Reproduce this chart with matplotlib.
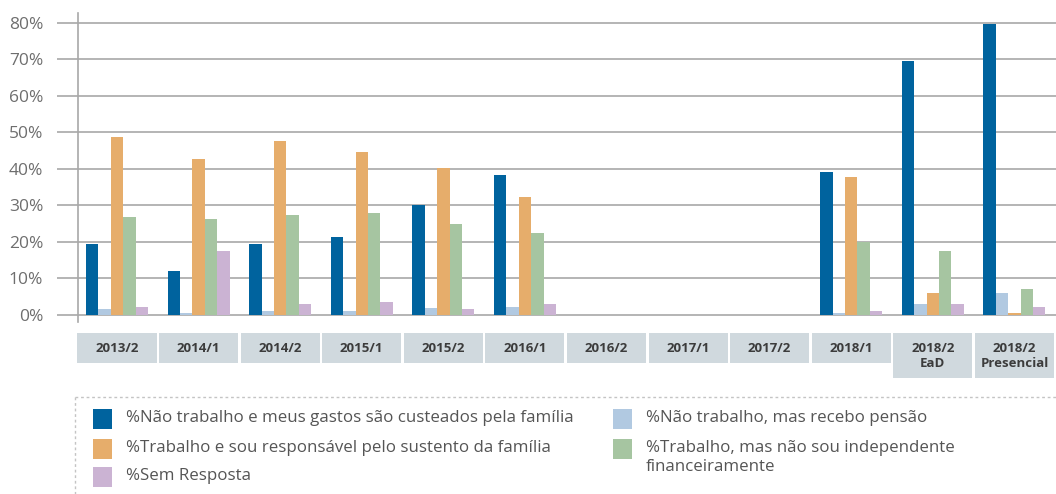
import numpy as np
import matplotlib
matplotlib.use("Agg")
import matplotlib.pyplot as pp
from matplotlib.patches import Rectangle
from matplotlib.lines import Line2D

pp.rcParams['font.family'] = ['Open Sans', 'DejaVu Sans']

# data
semesters = ['2013/2', '2014/1', '2014/2', '2015/1', '2015/2', '2016/1',
             '2016/2', '2017/1', '2017/2', '2018/1', '2018/2\nEaD', '2018/2\nPresencial']
nao_trab_familia = [19.5, 12.0, 19.5, 21.4, 30.0, 38.4, 0, 0, 0, 39.2, 69.6, 79.8]
nao_trab_pensao = [1.6, 0.5, 1.1, 1.1, 1.8, 2.3, 0, 0, 0, 0.6, 3.0, 6.0]
trab_responsavel = [48.8, 42.7, 47.7, 44.7, 40.3, 32.3, 0, 0, 0, 37.8, 6.0, 0.6]
trab_nao_indep = [26.8, 26.3, 27.4, 28.0, 25.0, 22.5, 0, 0, 0, 20.0, 17.5, 7.1]
sem_resposta = [2.2, 17.5, 3.0, 3.5, 1.7, 3.1, 0, 0, 0, 1.1, 3.0, 2.2]

series = [nao_trab_familia, nao_trab_pensao, trab_responsavel, trab_nao_indep, sem_resposta]
colors = ['#00639e', '#b1c9e1', '#e6ad6b', '#a6c5a1', '#cbb3d3']
labels = ['%Não trabalho e meus gastos são custeados pela família',
          '%Não trabalho, mas recebo pensão',
          '%Trabalho e sou responsável pelo sustento da família',
          '%Trabalho, mas não sou independente\nfinanceiramente',
          '%Sem Resposta']

W, H = 1056, 494
fig = pp.figure(figsize=(W/100, H/100), dpi=100)
ax = fig.add_axes([78/W, (H-322)/H, 978/W, 309/H])

grid_c = '#a8a8a8'
x = np.arange(len(semesters))
bw = 0.152
for k, (vals, c) in enumerate(zip(series, colors)):
    ax.bar(x + (k-2)*bw, vals, bw, color=c, zorder=3, linewidth=0)

ax.set_xlim(-0.478, 11.51)
ax.set_ylim(-1.92, 82.74)
ax.set_yticks(range(0, 81, 10))
ax.set_yticklabels(['%d%%' % v for v in range(0, 81, 10)], color='#6e6e6e', fontsize=12.5)
ax.yaxis.grid(True, color=grid_c, lw=1.2, zorder=0)
ax.tick_params(axis='y', length=15, width=1.2, color=grid_c, pad=10)
ax.set_xticks([])
for s in ['top', 'right', 'bottom']:
    ax.spines[s].set_visible(False)
ax.spines['left'].set_color(grid_c)
ax.spines['left'].set_linewidth(1.2)

# category boxes under the axis
tr = ax.get_xaxis_transform()
top = -(333-322)/309
for i, lab in enumerate(semesters):
    lines = lab.split('\n')
    bot = -(363-322)/309 if len(lines) == 1 else -(378-322)/309
    ax.add_patch(Rectangle((i-0.485, bot), 0.97, top-bot, transform=tr,
                           facecolor='#d0d9de', edgecolor='none', clip_on=False))
    for j, ln in enumerate(lines):
        ax.text(i, -(348.5-322+15*j)/309, ln, transform=tr, ha='center', va='center',
                fontsize=9.5, fontweight='bold', color='#3c3c3c')

# legend box
def fx(px):
    return px/W

def fy(py):
    return 1-py/H

dash = dict(color='#c4c4c4', lw=1.0, linestyle=(0, (2, 2)), transform=fig.transFigure)
fig.add_artist(Line2D([fx(75), fx(1056)], [fy(397), fy(397)], **dash))
fig.add_artist(Line2D([fx(75), fx(75)], [fy(397), fy(494)], **dash))

slots = [(93, 419), (613, 419), (93, 449), (613, 449), (93, 477)]
for (sx, sy), c, lab in zip(slots, colors, labels):
    fig.add_artist(Rectangle((fx(sx), fy(sy+10)), 19/W, 20/H, transform=fig.transFigure,
                             facecolor=c, edgecolor='none'))
    fig.text(fx(sx+33), fy(sy-9), lab, ha='left', va='top', fontsize=12.2,
             color='#555555', linespacing=1.25)

fig.savefig('out.png', dpi=100)
